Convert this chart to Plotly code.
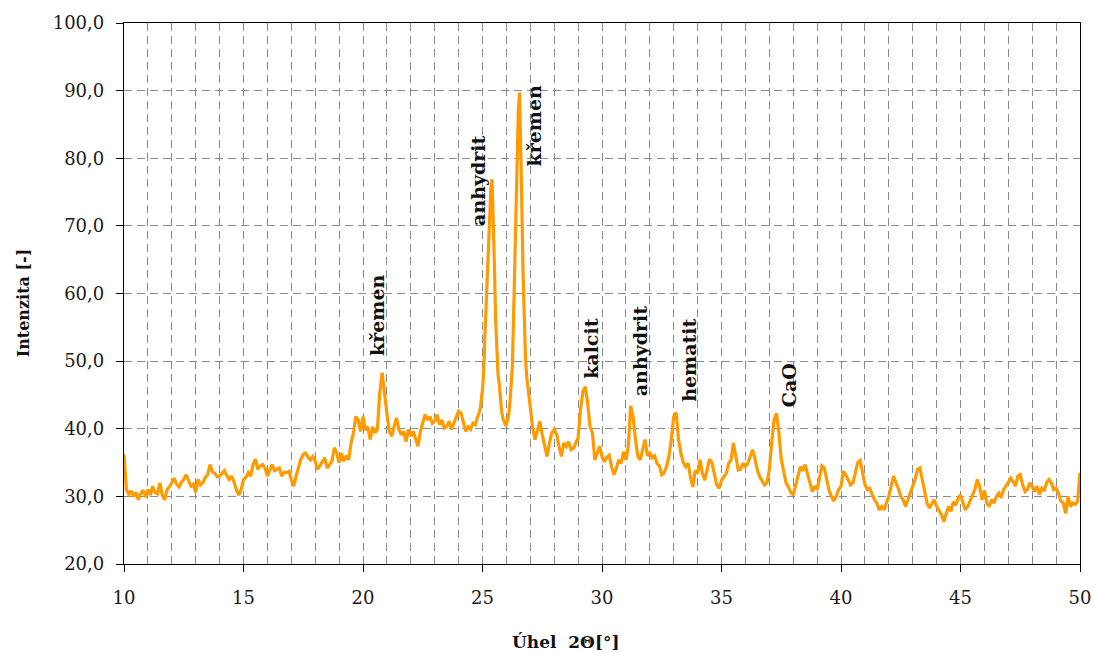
import numpy as np
import plotly.graph_objects as go

# Diffraction angle grid: 0.1° steps, refined to 0.05° across the two main peaks
angle_a = np.round(np.arange(10.0, 25.0001, 0.1), 2)
angle_b = np.round(np.arange(25.05, 27.0001, 0.05), 2)
angle_c = np.round(np.arange(27.1, 50.0001, 0.1), 2)

intensity_a = [
    36.2, 31.0, 30.3, 30.8, 30.0, 30.6, 29.5, 30.4, 30.9, 29.9,   # 10.0-10.9
    31.0, 30.2, 31.5, 30.6, 30.4, 32.0, 30.2, 29.5, 31.0, 31.4,   # 11
    32.0, 32.7, 31.8, 31.4, 32.1, 32.5, 33.2, 32.4, 31.5, 31.8,   # 12
    30.6, 32.5, 31.7, 32.0, 32.8, 33.2, 34.7, 33.6, 33.4, 32.9,   # 13
    33.0, 33.4, 33.8, 33.1, 32.5, 33.0, 32.2, 31.0, 30.2, 31.0,   # 14
    32.5, 32.8, 33.5, 33.0, 34.7, 35.5, 34.0, 34.5, 34.7, 34.2,   # 15
    33.0, 33.9, 34.7, 33.8, 34.0, 34.2, 33.0, 33.6, 33.5, 33.7,   # 16
    32.5, 31.5, 33.0, 34.2, 35.5, 36.2, 36.4, 35.8, 35.4, 35.9,   # 17
    35.2, 34.0, 34.6, 35.3, 35.7, 34.2, 34.8, 35.2, 37.2, 36.4,   # 18
    35.0, 36.4, 35.2, 36.0, 35.4, 37.9, 39.4, 41.8, 41.3, 39.6,   # 19
    41.8, 39.8, 40.3, 38.4, 40.3, 39.4, 39.9, 45.3, 48.3, 44.8,   # 20
    42.3, 39.6, 38.9, 40.3, 41.6, 39.9, 39.1, 39.6, 38.1, 39.9,   # 21
    38.9, 39.6, 38.6, 37.4, 39.6, 40.8, 42.1, 41.3, 41.8, 40.8,   # 22
    41.1, 42.1, 40.6, 41.3, 40.1, 40.3, 41.1, 39.9, 40.8, 41.8,   # 23
    42.6, 42.3, 41.1, 39.6, 40.3, 39.9, 40.8, 40.6, 41.8, 42.8,   # 24
    45.8,                                                         # 25.0
]

intensity_b = [
    48.5, 53.6, 58.0, 62.0, 67.5, 72.5, 75.5, 76.9, 72.0, 64.0,   # 25.05-25.50
    56.0, 51.5, 48.0, 46.7, 44.0, 42.6, 41.6, 41.1, 40.6, 40.6,   # 25.55-26.00
    41.2, 42.1, 44.0, 46.0, 49.2, 56.5, 65.5, 73.5, 81.5, 87.0,   # 26.05-26.50
    89.7, 83.0, 72.5, 62.5, 55.0, 50.5, 47.7, 46.0, 44.5, 43.3,   # 26.55-27.00
]

intensity_c = [
    40.1, 38.4, 39.9, 41.1, 39.1, 37.4, 35.9, 37.9, 39.4,         # 27.1-27.9
    39.9, 39.2, 37.4, 35.9, 37.9, 37.4, 38.1, 36.9, 37.1, 37.9,   # 28
    38.6, 42.8, 45.5, 46.2, 43.8, 40.3, 39.4, 35.4, 36.4, 37.4,   # 29
    35.9, 35.1, 35.8, 36.1, 34.4, 33.2, 34.2, 35.4, 34.9, 36.6,   # 30
    35.4, 37.4, 43.4, 41.8, 38.4, 35.9, 35.4, 37.1, 38.4, 36.0,   # 31
    36.4, 35.7, 36.0, 34.9, 34.5, 33.2, 33.5, 34.4, 35.9, 38.4,   # 32
    41.8, 42.4, 38.5, 36.4, 35.0, 34.4, 34.9, 32.9, 31.4, 33.8,   # 33
    33.4, 35.4, 33.4, 32.4, 33.9, 35.5, 35.0, 33.4, 31.7, 31.2,   # 34
    32.4, 32.9, 33.4, 34.9, 35.4, 37.9, 35.9, 33.9, 34.0, 34.9,   # 35
    34.4, 34.9, 35.9, 36.9, 35.6, 33.9, 32.9, 32.2, 31.7, 32.0,   # 36
    33.9, 37.9, 41.3, 42.3, 39.5, 35.5, 33.4, 32.0, 31.4, 30.6,   # 37
    30.2, 31.5, 32.9, 34.4, 33.8, 34.7, 33.3, 31.9, 30.7, 31.5,   # 38
    31.0, 32.7, 34.5, 34.2, 32.5, 30.9, 30.0, 29.3, 30.0, 31.0,   # 39
    31.5, 33.7, 33.2, 32.5, 31.7, 32.0, 33.4, 35.0, 35.3, 33.5,   # 40
    31.8, 31.0, 31.2, 30.3, 29.5, 29.0, 28.0, 28.5, 28.0, 29.0,   # 41
    30.0, 31.5, 33.0, 32.0, 31.2, 30.0, 29.5, 28.5, 29.5, 30.2,   # 42
    31.2, 32.5, 34.0, 34.2, 32.5, 30.5, 29.0, 28.3, 28.8, 29.5,   # 43
    28.5, 27.8, 27.3, 26.3, 27.5, 28.5, 27.8, 29.2, 28.7, 29.7,   # 44
    30.2, 29.0, 28.0, 28.5, 29.3, 30.2, 31.0, 32.5, 31.5, 29.5,   # 45
    30.9, 29.0, 28.5, 29.5, 29.0, 30.0, 30.5, 29.8, 31.0, 31.5,   # 46
    32.2, 32.7, 32.2, 31.5, 33.0, 33.2, 31.7, 30.7, 31.0, 32.0,   # 47
    31.5, 30.7, 31.5, 30.3, 31.2, 30.8, 32.0, 32.5, 32.0, 31.0,   # 48
    31.2, 30.5, 29.3, 29.0, 27.5, 30.0, 28.5, 29.0, 28.8, 29.3,   # 49
    33.5,                                                         # 50.0
]

angles = np.concatenate([angle_a, angle_b, angle_c])
intensity = intensity_a + intensity_b + intensity_c

# Phase labels: text, angle of label centre, intensity at label base
phase_names = ["křemen", "anhydrit", "křemen", "kalcit", "anhydrit", "hematit", "CaO"]
phase_x = [20.56, 24.84, 27.15, 29.53, 31.60, 33.61, 37.80]
phase_y = [50.6, 69.8, 78.7, 47.2, 44.7, 43.8, 43.1]

y_ticks = [20, 30, 40, 50, 60, 70, 80, 90, 100]
x_ticks = [10, 15, 20, 25, 30, 35, 40, 45, 50]

fig = go.Figure()
fig.add_trace(go.Scatter(
    x=angles, y=intensity, mode="lines",
    line=dict(color="#FF9A00", width=3.2),
    hoverinfo="x+y", showlegend=False,
))

for name, px, py in zip(phase_names, phase_x, phase_y):
    fig.add_annotation(
        x=px, y=py, xref="x", yref="y", text=name, showarrow=False,
        textangle=-90, xanchor="center", yanchor="bottom", borderpad=0,
        font=dict(family="DejaVu Serif", size=19, color="#111111", weight="bold"),
    )

fig.add_annotation(
    x=0.462, y=-0.144, xref="paper", yref="paper",
    text="Úhel\u00a0 2Θ[°]", showarrow=False, xanchor="center", yanchor="middle",
    font=dict(family="DejaVu Serif", size=17, color="#111111", weight="bold"),
)
fig.add_annotation(
    x=-0.105, y=0.483, xref="paper", yref="paper",
    text="Intenzita [-]", showarrow=False, textangle=-90,
    xanchor="center", yanchor="middle",
    font=dict(family="DejaVu Serif", size=16, color="#111111", weight="bold"),
)

grid_style = dict(gridcolor="#8a8a8a", gridwidth=1, griddash="8px,5px")

fig.update_xaxes(
    range=[10, 50], tickvals=x_ticks, ticks="outside", ticklen=7,
    tickwidth=1.3, tickcolor="#000000", ticklabelstandoff=10,
    showline=True, linecolor="#000000", linewidth=1.3, mirror=True,
    showgrid=True, **grid_style,
    minor=dict(dtick=1, showgrid=True, ticks="", **grid_style),
    tickfont=dict(family="DejaVu Serif", size=18, color="#1a1a1a"),
    zeroline=False, automargin=False,
)
fig.update_yaxes(
    range=[20, 100], tickvals=y_ticks, tickformat=".1f", ticks="outside",
    ticklen=7, tickwidth=1.3, tickcolor="#000000", ticklabelstandoff=8,
    showline=True, linecolor="#000000", linewidth=1.3, mirror=True,
    showgrid=True, **grid_style,
    tickfont=dict(family="DejaVu Serif", size=18, color="#1a1a1a"),
    zeroline=False, automargin=False,
)

fig.update_layout(
    width=1094, height=653,
    margin=dict(l=124, r=14, t=23, b=89),
    paper_bgcolor="white", plot_bgcolor="white",
    separators=", ",
)

fig.write_html("out.html")
